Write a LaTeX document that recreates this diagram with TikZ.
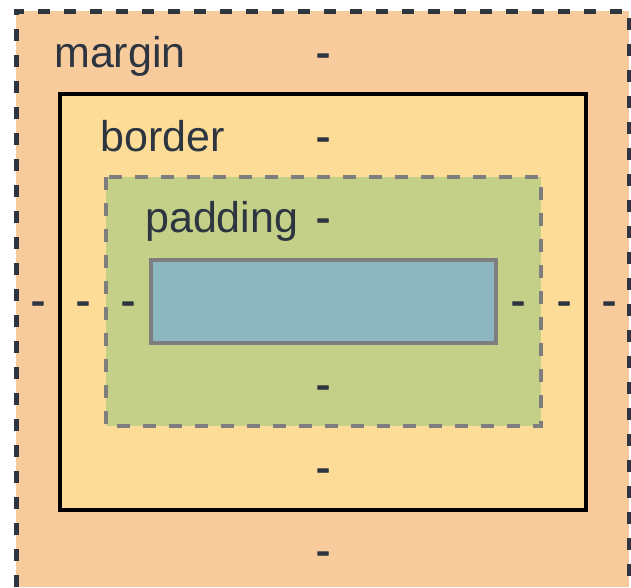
\documentclass[tikz,border=0pt]{standalone}
\usepackage{fontspec}
\setmainfont{Liberation Sans}
\newfontfamily\heavydash[FakeBold=2]{Liberation Sans}
\usetikzlibrary{positioning}

\definecolor{marginfill}{RGB}{248,203,156}
\definecolor{borderfill}{RGB}{252,220,150}
\definecolor{paddingfill}{RGB}{196,207,136}
\definecolor{contentfill}{RGB}{140,182,192}
\definecolor{edgegray}{RGB}{126,126,126}
\definecolor{inkdark}{RGB}{45,53,64}

\tikzset{
  lbl/.style={text=inkdark, anchor=base west, inner sep=0pt, font=\fontsize{43}{50}\selectfont},
  dashmark/.style={text=inkdark, anchor=base, inner sep=0pt, font=\heavydash\fontsize{43}{50}\selectfont},
}

\begin{document}
\begin{tikzpicture}[x=1pt, y=-1pt]
\useasboundingbox (0,0) rectangle (631,587);

% margin
\fill[marginfill] (16,11) rectangle (629,587);
\draw[inkdark, line width=5pt, dash pattern=on 12pt off 14pt] (16,587) -- (16,11) -- (629,11) -- (629,587);

% border
\draw[black, line width=4.5pt, fill=borderfill] (60,94) rectangle (586,510);

% padding
\draw[edgegray, line width=4pt, dash pattern=on 13pt off 13pt, fill=paddingfill] (106,177) rectangle (541,426);

% content
\draw[edgegray, line width=4.5pt, fill=contentfill] (151,260) rectangle (496,343);

\node[lbl] (marginlbl) at (54,67) {margin};
\node[lbl] (borderlbl) at (100,151) {border};
\node[lbl] (paddinglbl) at (145,232) {padding};

\node[dashmark] (margintop) at (323,67) {-};
\node[dashmark] (bordertop) at (323,151) {-};
\node[dashmark] (paddingtop) at (323,232) {-};
\node[dashmark] (paddingbottom) at (323,399) {-};
\node[dashmark] (borderbottom) at (323,482) {-};
\node[dashmark] (marginbottom) at (323,565) {-};

\node[dashmark] (marginleft) at (38,315) {-};
\node[dashmark] (borderleft) at (83,315) {-};
\node[dashmark] (paddingleft) at (128,315) {-};
\node[dashmark] (paddingright) at (518,315) {-};
\node[dashmark] (borderright) at (564,315) {-};
\node[dashmark] (marginright) at (609,315) {-};

\end{tikzpicture}
\end{document}
